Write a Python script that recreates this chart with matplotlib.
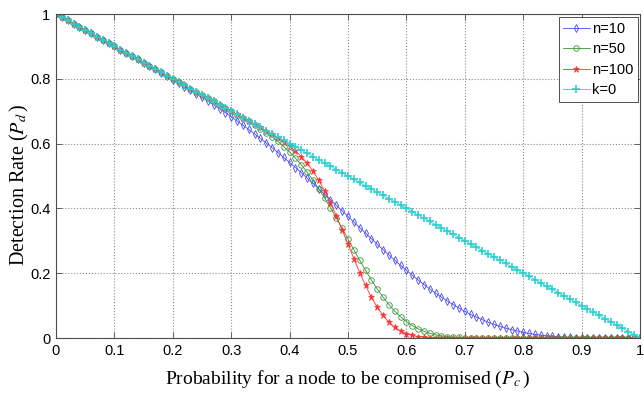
import numpy as np
import matplotlib; matplotlib.use("Agg"); import matplotlib.pyplot as plt

# probability of a node being compromised, 0..1 step 0.01
pc = [i / 100 for i in range(101)]

# detection rate
pd_n10 = [1.0000, 0.9900, 0.9800, 0.9700, 0.9600, 0.9500, 0.9400, 0.9300, 0.9200, 0.9100,
          0.9000, 0.8900, 0.8799, 0.8698, 0.8597, 0.8495, 0.8393, 0.8290, 0.8186, 0.8081,
          0.7976, 0.7870, 0.7762, 0.7652, 0.7541, 0.7428, 0.7313, 0.7195, 0.7075, 0.6953,
          0.6828, 0.6700, 0.6569, 0.6436, 0.6300, 0.6161, 0.6019, 0.5873, 0.5724, 0.5572,
          0.5417, 0.5260, 0.5100, 0.4937, 0.4772, 0.4605, 0.4436, 0.4266, 0.4095, 0.3923,
          0.3751, 0.3579, 0.3407, 0.3236, 0.3065, 0.2895, 0.2728, 0.2564, 0.2403, 0.2244,
          0.2089, 0.1938, 0.1792, 0.1651, 0.1515, 0.1385, 0.1261, 0.1143, 0.1031, 0.0924,
          0.0823, 0.0729, 0.0642, 0.0562, 0.0489, 0.0422, 0.0361, 0.0306, 0.0258, 0.0214,
          0.0175, 0.0141, 0.0112, 0.0088, 0.0068, 0.0052, 0.0038, 0.0027, 0.0019, 0.0013,
          0.0008, 0.0005, 0.0003, 0.0001, 0.0000, 0.0000, 0.0000, 0.0000, 0.0000, 0.0000,
          0.0000]
pd_n50 = [1.0000, 0.9900, 0.9800, 0.9700, 0.9600, 0.9500, 0.9400, 0.9300, 0.9200, 0.9100,
          0.9000, 0.8900, 0.8800, 0.8700, 0.8600, 0.8500, 0.8400, 0.8300, 0.8200, 0.8100,
          0.8000, 0.7900, 0.7800, 0.7700, 0.7600, 0.7500, 0.7400, 0.7300, 0.7199, 0.7099,
          0.6997, 0.6895, 0.6791, 0.6684, 0.6574, 0.6458, 0.6337, 0.6205, 0.6065, 0.5908,
          0.5741, 0.5549, 0.5347, 0.5116, 0.4874, 0.4603, 0.4322, 0.4016, 0.3704, 0.3380,
          0.3051, 0.2724, 0.2400, 0.2090, 0.1791, 0.1515, 0.1260, 0.1033, 0.0830, 0.0657,
          0.0506, 0.0385, 0.0284, 0.0207, 0.0144, 0.0100, 0.0066, 0.0043, 0.0026, 0.0016,
          0.0009, 0.0005, 0.0003, 0.0002, 0.0001, 0.0000, 0.0000, 0.0000, 0.0000, 0.0000,
          0.0000, 0.0000, 0.0000, 0.0000, 0.0000, 0.0000, 0.0000, 0.0000, 0.0000, 0.0000,
          0.0000, 0.0000, 0.0000, 0.0000, 0.0000, 0.0000, 0.0000, 0.0000, 0.0000, 0.0000,
          0.0000]
pd_n100 = [1.0000, 0.9900, 0.9800, 0.9700, 0.9600, 0.9500, 0.9400, 0.9300, 0.9200, 0.9100,
           0.9000, 0.8900, 0.8800, 0.8700, 0.8600, 0.8500, 0.8400, 0.8300, 0.8200, 0.8100,
           0.8000, 0.7900, 0.7800, 0.7700, 0.7600, 0.7500, 0.7400, 0.7300, 0.7200, 0.7100,
           0.7000, 0.6900, 0.6800, 0.6700, 0.6599, 0.6497, 0.6394, 0.6288, 0.6176, 0.6056,
           0.5923, 0.5773, 0.5598, 0.5393, 0.5150, 0.4867, 0.4541, 0.4173, 0.3770, 0.3339,
           0.2894, 0.2450, 0.2021, 0.1622, 0.1263, 0.0953, 0.0696, 0.0490, 0.0332, 0.0217,
           0.0135, 0.0081, 0.0046, 0.0025, 0.0013, 0.0006, 0.0003, 0.0001, 0.0000, 0.0000,
           0.0000, 0.0000, 0.0000, 0.0000, 0.0000, 0.0000, 0.0000, 0.0000, 0.0000, 0.0000,
           0.0000, 0.0000, 0.0000, 0.0000, 0.0000, 0.0000, 0.0000, 0.0000, 0.0000, 0.0000,
           0.0000, 0.0000, 0.0000, 0.0000, 0.0000, 0.0000, 0.0000, 0.0000, 0.0000, 0.0000,
           0.0000]
pd_k0 = [1.00, 0.99, 0.98, 0.97, 0.96, 0.95, 0.94, 0.93, 0.92, 0.91,
         0.90, 0.89, 0.88, 0.87, 0.86, 0.85, 0.84, 0.83, 0.82, 0.81,
         0.80, 0.79, 0.78, 0.77, 0.76, 0.75, 0.74, 0.73, 0.72, 0.71,
         0.70, 0.69, 0.68, 0.67, 0.66, 0.65, 0.64, 0.63, 0.62, 0.61,
         0.60, 0.59, 0.58, 0.57, 0.56, 0.55, 0.54, 0.53, 0.52, 0.51,
         0.50, 0.49, 0.48, 0.47, 0.46, 0.45, 0.44, 0.43, 0.42, 0.41,
         0.40, 0.39, 0.38, 0.37, 0.36, 0.35, 0.34, 0.33, 0.32, 0.31,
         0.30, 0.29, 0.28, 0.27, 0.26, 0.25, 0.24, 0.23, 0.22, 0.21,
         0.20, 0.19, 0.18, 0.17, 0.16, 0.15, 0.14, 0.13, 0.12, 0.11,
         0.10, 0.09, 0.08, 0.07, 0.06, 0.05, 0.04, 0.03, 0.02, 0.01,
         0.00]

series_labels = ["n=10", "n=50", "n=100", "k=0"]
xticks = [0, 0.1, 0.2, 0.3, 0.4, 0.5, 0.6, 0.7, 0.8, 0.9, 1]
xticklabels = ["0", "0.1", "0.2", "0.3", "0.4", "0.5", "0.6", "0.7", "0.8", "0.9", "1"]
yticks = [0, 0.2, 0.4, 0.6, 0.8, 1]
yticklabels = ["0", "0.2", "0.4", "0.6", "0.8", "1"]

plt.rcParams["font.family"] = ["Liberation Sans", "DejaVu Sans"]
plt.rcParams["mathtext.fontset"] = "stix"

fig = plt.figure(figsize=(6.44, 3.95), dpi=100)
ax = fig.add_axes([56 / 644, 1 - 338 / 395, 584 / 644, 324 / 395])

styles = [
    dict(color="#4848ff", marker="d", ms=4.0, mfc="none", mew=0.6),
    dict(color="#369636", marker="o", ms=4.0, mfc="none", mew=0.6),
    dict(color="#ff3333", marker="*", ms=5.0, mew=0.5),
    dict(color="#2ccfcf", marker="+", ms=5.5, mew=1.2),
]
for ys, lab, st in zip([pd_n10, pd_n50, pd_n100, pd_k0], series_labels, styles):
    ax.plot(pc, ys, lw=0.6, label=lab, **st)

ax.set_xlim(0, 1); ax.set_ylim(0, 1)
ax.set_xticks(xticks); ax.set_xticklabels(xticklabels)
ax.set_yticks(yticks); ax.set_yticklabels(yticklabels)
ax.tick_params(direction="in", top=True, right=True, length=4, width=0.6,
               labelsize=10.5, pad=4, color="0.3")
ax.grid(True, ls=":", color="0.55", lw=0.8)
for s in ax.spines.values():
    s.set_color("0.3"); s.set_linewidth(0.8)

ax.set_xlabel(r"Probability for a node to be compromised ($P_c\,$)", family="Liberation Serif",
              fontsize=14, labelpad=8)
ax.set_ylabel(r"Detection Rate ($P_d\,$)", family="Liberation Serif", fontsize=14.5)
ax.yaxis.set_label_coords(-0.042, 0.472)

leg = ax.legend(loc="upper right", bbox_to_anchor=(0.997, 0.99), fontsize=10.5, numpoints=1,
                fancybox=False, framealpha=1, edgecolor="0.2", handlelength=1.8,
                handletextpad=0.2, borderpad=0.3, labelspacing=0.45, borderaxespad=0)
leg.get_frame().set_linewidth(0.6)

fig.savefig("out.png", dpi=100)
